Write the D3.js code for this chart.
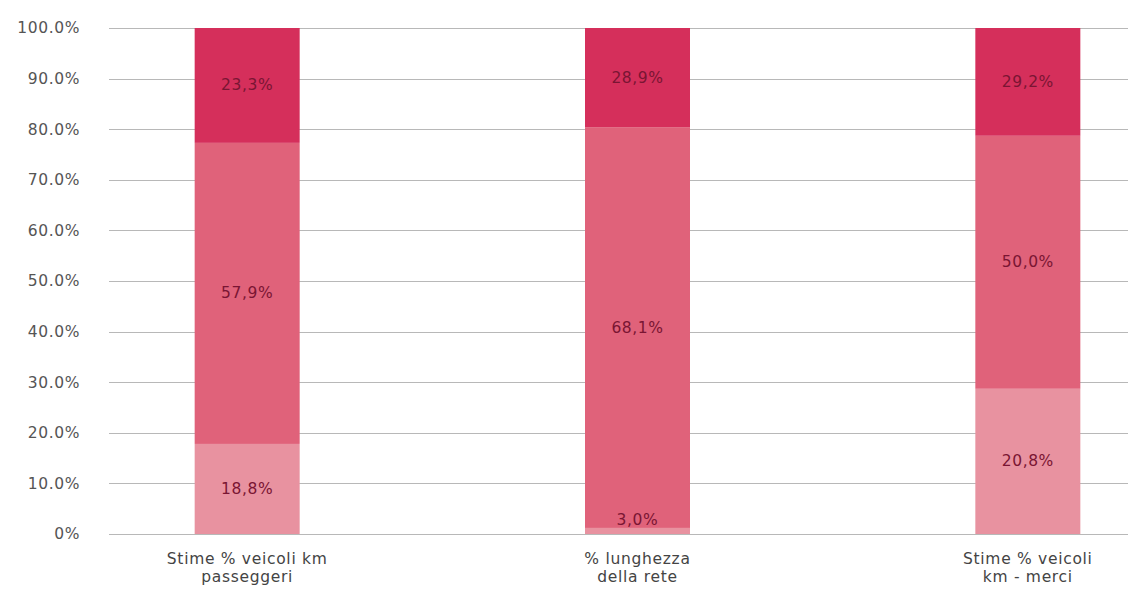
<!DOCTYPE html>
<html>
<head>
<meta charset="utf-8">
<script src="https://cdn.jsdelivr.net/npm/d3@7/dist/d3.min.js"></script>
<style>
  html, body { margin: 0; padding: 0; background: #ffffff; }
  svg { display: block; }
  text { font-family: "DejaVu Sans", sans-serif; }
</style>
</head>
<body>
<svg id="chart" width="1128" height="590"></svg>
<script>
// ---- data ----
const categories = [
  ["Stime % veicoli km", "passeggeri"],
  ["% lunghezza", "della rete"],
  ["Stime % veicoli", "km - merci"]
];
// segment heights as drawn (percent of bar)
const bottomValues = [17.8, 1.2, 28.7];
const middleValues = [59.5, 79.2, 50.0];
const topValues    = [22.7, 19.6, 21.3];
// printed labels in each segment
const bottomLabels = ["18,8%", "3,0%", "20,8%"];
const middleLabels = ["57,9%", "68,1%", "50,0%"];
const topLabels    = ["23,3%", "28,9%", "29,2%"];
const yTicks = [0, 10, 20, 30, 40, 50, 60, 70, 80, 90, 100];
const yTickLabels = ["0%", "10.0%", "20.0%", "30.0%", "40.0%", "50.0%", "60.0%", "70.0%", "80.0%", "90.0%", "100.0%"];

const seriesColors = ["#e892a0", "#e0627a", "#d52f5b"];
const labelColor = "#7a1533";

const svg = d3.select("#chart");
const W = 1128;

const y = d3.scaleLinear().domain([0, 100]).range([534, 28]);
const x = d3.scaleBand().domain(d3.range(categories.length))
  .range([52, 1223]).paddingInner(0.73).paddingOuter(0.365);
const barW = 105;
const cx = i => x(i) + x.bandwidth() / 2;

// gridlines
svg.append("g").selectAll("line").data(yTicks).join("line")
  .attr("x1", 109).attr("x2", W)
  .attr("y1", d => Math.round(y(d)) + 0.5).attr("y2", d => Math.round(y(d)) + 0.5)
  .attr("stroke", "#b8b8b8").attr("stroke-width", 1.2);

// y tick labels via axis
const yAxis = d3.axisLeft(y).tickValues(yTicks).tickSize(0).tickPadding(0)
  .tickFormat((d, i) => yTickLabels[i]);
const ga = svg.append("g").attr("transform", "translate(80,0)").call(yAxis);
ga.select(".domain").remove();
ga.selectAll("text").attr("font-size", 15.5).attr("fill", "#555")
  .attr("letter-spacing", 0.6)
  .attr("font-family", "DejaVu Sans, sans-serif");

// stacked data
const rows = categories.map((c, i) => ({
  i, bottom: bottomValues[i], middle: middleValues[i], top: topValues[i]
}));
const stack = d3.stack().keys(["bottom", "middle", "top"]);
const series = stack(rows);
const labelSets = [bottomLabels, middleLabels, topLabels];

const gBars = svg.append("g");
series.forEach((s, k) => {
  gBars.append("g").selectAll("rect").data(s).join("rect")
    .attr("x", d => cx(d.data.i) - barW / 2)
    .attr("width", barW)
    .attr("y", d => y(d[1]))
    .attr("height", d => y(d[0]) - y(d[1]))
    .attr("fill", seriesColors[k]);
});

// segment labels
series.forEach((s, k) => {
  svg.append("g").selectAll("text").data(s).join("text")
    .attr("x", d => cx(d.data.i))
    .attr("y", d => Math.min((y(d[0]) + y(d[1])) / 2, y(0) - 14))
    .attr("text-anchor", "middle")
    .attr("dominant-baseline", "central")
    .attr("font-size", 15.5)
    .attr("letter-spacing", 0.6)
    .attr("fill", labelColor)
    .text(d => labelSets[k][d.data.i]);
});

// category labels
const gc = svg.append("g");
categories.forEach((lines, i) => {
  lines.forEach((ln, j) => {
    gc.append("text")
      .attr("x", cx(i)).attr("y", 564 + j * 18)
      .attr("text-anchor", "middle")
      .attr("font-size", 15.5).attr("letter-spacing", 0.7)
      .attr("fill", "#444")
      .text(ln);
  });
});
</script>
</body>
</html>
